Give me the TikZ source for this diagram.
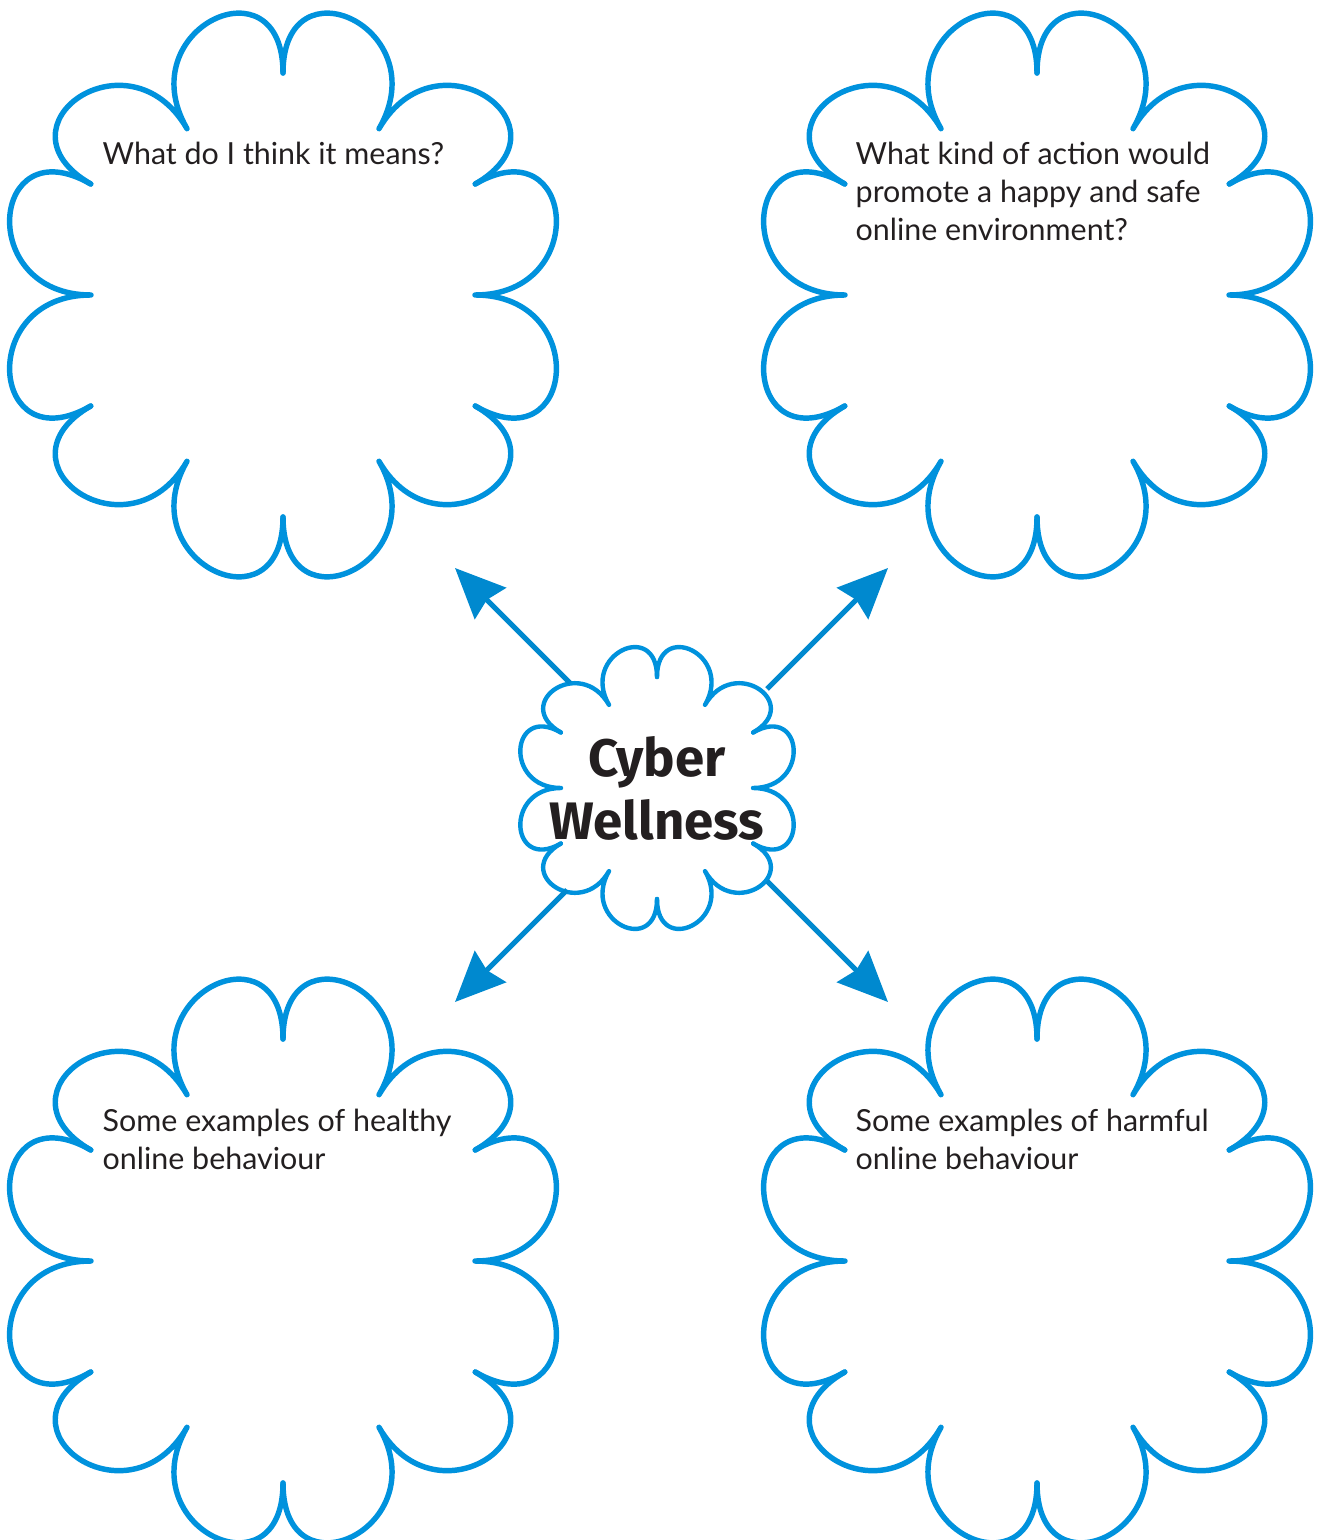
\documentclass[tikz,border=0pt]{standalone}
\usepackage{fontspec}
\setsansfont{Lato}
\newfontfamily\titlefont{Fira Sans}
\usetikzlibrary{arrows.meta}
\definecolor{cloudblue}{RGB}{0,146,221}
\definecolor{arrowblue}{RGB}{0,137,207}
\definecolor{inkblack}{RGB}{35,31,32}
\tikzset{%
  >={Stealth[length=14.2pt,width=12.5pt,inset=1.4pt]},
  % Specifications for style of lines and nodes:
     cloudline/.style = {draw=cloudblue, line width=1.55pt, line cap=round,
                         line join=round},
       pointer/.style = {->, draw=arrowblue, line width=1.45pt},
        prompt/.style = {anchor=north west, align=left, inner sep=0pt,
                         text=inkblack, font=\sffamily\fontsize{8.65}{10.8}\selectfont},
         topic/.style = {align=center, inner sep=0pt, text=inkblack,
                         font=\titlefont\bfseries\fontsize{15}{17.9}\selectfont}
}

% cloud with twelve lobes, tails alternate between two radii
\newcommand{\cloudat}[3][1.55pt]{%
  \begin{scope}[shift={#2}, scale=#3]
    \foreach \a in {-90,-30,...,210}
      \draw[cloudline, line width=#1]
        (\a:222) .. controls +(\a:116) and +({\a+30}:116) .. ({\a+30}:192)
                 .. controls +({\a+30}:116) and +({\a+60}:116) .. ({\a+60}:222);
  \end{scope}}

\begin{document}
\begin{tikzpicture}[x=0.01cm, y=-0.01cm]
  \useasboundingbox (0,0) rectangle (1317,1540);

  % the four thought clouds and the one in the middle
  \cloudat{(283,295)}{1}
  \cloudat{(1037,295)}{1}
  \cloudat{(283,1261)}{1}
  \cloudat{(1037,1261)}{1}
  \cloudat[1.25pt]{(657,788)}{0.5}

  % Specification of nodes (position, etc.)
  \node (cyber)   [topic]  at (657,788)  {Cyber\\Wellness};
  \node (meaning) [prompt] at (102,141)  {What do I think it means?};
  \node (action)  [prompt] at (855,141)  {What kind of action would\\promote a happy and safe\\online environment?};
  \node (healthy) [prompt] at (102,1108) {Some examples of healthy\\online behaviour};
  \node (harmful) [prompt] at (855,1108) {Some examples of harmful\\online behaviour};

  \coordinate (nwfoot) at (570,683);  \coordinate (nwtip) at (455,568);
  \coordinate (nefoot) at (767,689);  \coordinate (netip) at (888,568);
  \coordinate (swfoot) at (567,890);  \coordinate (swtip) at (455,1002);
  \coordinate (sefoot) at (767,881);  \coordinate (setip) at (888,1002);

  \draw[pointer] (nwfoot) -- (nwtip);
  \draw[pointer] (nefoot) -- (netip);
  \draw[pointer] (swfoot) -- (swtip);
  \draw[pointer] (sefoot) -- (setip);
\end{tikzpicture}
\end{document}
